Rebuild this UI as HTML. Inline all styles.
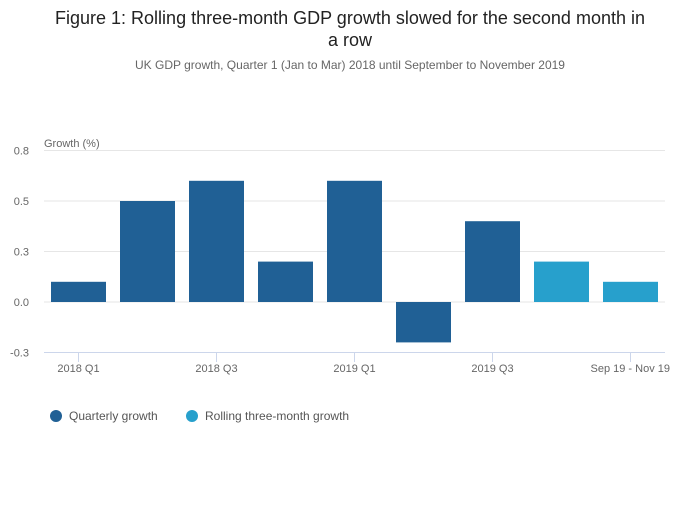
<!DOCTYPE html>
<html><head><meta charset="utf-8"><style>
body{margin:0;background:#fff;font-family:"Liberation Sans",sans-serif;}
</style></head><body>
<svg width="700" height="502" xmlns="http://www.w3.org/2000/svg">
<text x="350" y="24" text-anchor="middle" font-size="18" fill="#222">Figure 1: Rolling three-month GDP growth slowed for the second month in</text>
<text x="350" y="46" text-anchor="middle" font-size="18" fill="#222">a row</text>
<text x="350" y="69" text-anchor="middle" font-size="12" fill="#666">UK GDP growth, Quarter 1 (Jan to Mar) 2018 until September to November 2019</text>
<text x="44" y="147" font-size="11" fill="#666">Growth (%)</text>
<g id="grid"></g><g id="bars"></g><g id="xaxis"></g>
<g>
<circle cx="56" cy="416" r="6" fill="#206095"/>
<text x="69" y="420" font-size="12" fill="#555">Quarterly growth</text>
<circle cx="192" cy="416" r="6" fill="#27a0cc"/>
<text x="205" y="420" font-size="12" fill="#555">Rolling three-month growth</text>
</g>
</svg>
<script>
const categories=["2018 Q1","2018 Q2","2018 Q3","2018 Q4","2019 Q1","2019 Q2","2019 Q3","Aug 19 - Oct 19","Sep 19 - Nov 19"];
const values=[0.1,0.5,0.6,0.2,0.6,-0.2,0.4,0.2,0.1];
const series=["q","q","q","q","q","q","q","r","r"];
const yTicks=[-0.25,0,0.25,0.5,0.75];
const yTickLabels=["-0.3","0.0","0.3","0.5","0.8"];
const xLabelIdx=[0,2,4,6,8];
const xLabels=["2018 Q1","2018 Q3","2019 Q1","2019 Q3","Sep 19 - Nov 19"];
const NS="http://www.w3.org/2000/svg";
const y=v=>302-v*202;
const step=69, x0=44;
const xc=i=>x0+step*i+34.5;
const mk=(t,a,p)=>{const e=document.createElementNS(NS,t);for(const k in a)e.setAttribute(k,a[k]);p.appendChild(e);return e;};
const g=document.getElementById('grid');
yTicks.forEach((t,i)=>{
 const l=mk('line',{x1:44,x2:665,y1:y(t),y2:y(t),stroke:t===-0.25?'#ccd6eb':'#e6e6e6','stroke-width':1},g);
 
 
 const tx=mk('text',{x:29,y:y(t)+4,'text-anchor':'end','font-size':11,fill:'#666'},g);
 tx.textContent=yTickLabels[i];
 
 
});
const b=document.getElementById('bars');
values.forEach((v,i)=>{
 const r=mk('rect',{x:xc(i)-27.5,width:55,y:Math.min(y(v),y(0)),height:Math.abs(y(v)-y(0)),fill:series[i]==='q'?'#206095':'#27a0cc'},b);
 
 
});
const xa=document.getElementById('xaxis');
xLabelIdx.forEach((ci,i)=>{
 const t=mk('line',{x1:xc(ci),x2:xc(ci),y1:352,y2:362,stroke:'#ccd6eb'},xa);
 
 
 const tx=mk('text',{x:i===xLabelIdx.length-1?670:xc(ci),y:372,'text-anchor':i===xLabelIdx.length-1?'end':'middle','font-size':11,fill:'#666'},xa);
 tx.textContent=xLabels[i];
 
 
});
</script>
</body></html>
